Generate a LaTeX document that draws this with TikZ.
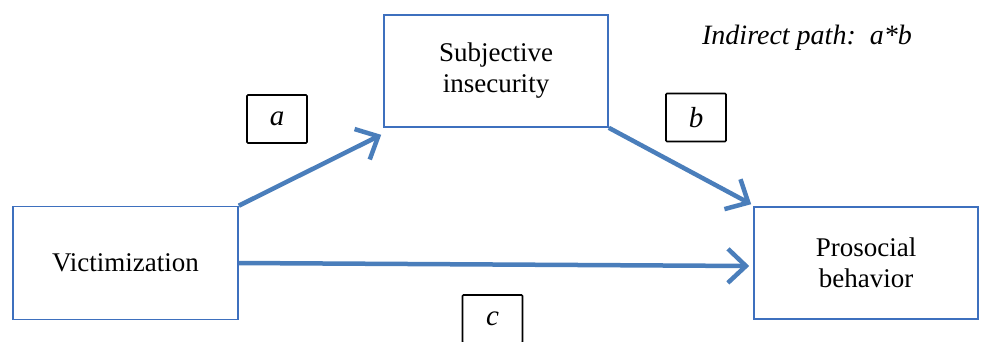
\documentclass[tikz,border=0pt]{standalone}
\usepackage{fontspec}
\setmainfont{Liberation Serif}
\usetikzlibrary{arrows.meta}
\definecolor{boxblue}{HTML}{3E70BE}
\definecolor{arrowblue}{HTML}{4A7EBB}
\tikzset{
  varbox/.style={draw=boxblue, line width=1.6pt, fill=white, minimum width=224pt, minimum height=112pt, align=center, font=\fontsize{27}{31}\selectfont, inner sep=0pt},
  labbox/.style={draw=black, line width=1.6pt, rounded corners=1pt, minimum width=60pt, minimum height=48pt, font=\fontsize{29}{30}\selectfont\itshape, inner sep=0pt},
  patharrow/.style={draw=arrowblue, line width=4.5pt, -{Straight Barb[length=18pt, width=34pt, line width=4.5pt]}},
}
\begin{document}
\begin{tikzpicture}[x=1pt, y=-1pt]
\useasboundingbox (0,0) rectangle (982,341);
\node[varbox, minimum width=225pt, minimum height=113pt] (vic) at (125.5,263) {Victimization};
\node[varbox] (subj) at (496,71) {Subjective\\insecurity};
\node[varbox] (pro) at (866,263) {Prosocial\\behavior};
\node[labbox] (la) at (277,119) {a};
\node[labbox] (lb) at (696,117.5) {b};
\node[labbox] (lc) at (492.5,319) {c};
\node[font=\fontsize{28}{32}\selectfont\itshape, anchor=base] (ind) at (807,44) {Indirect path:\ \ a*b};
\coordinate (aend) at ([xshift=-2pt, yshift=-7pt]subj.south west);
\coordinate (bend) at ([xshift=-2pt, yshift=2pt]pro.north west);
\coordinate (cend) at ([xshift=-4pt, yshift=-3pt]pro.west);
\draw[patharrow] (vic.north east) -- (aend);
\draw[patharrow] (subj.south east) -- (bend);
\draw[patharrow] (vic.east) -- (cend);
\end{tikzpicture}
\end{document}
